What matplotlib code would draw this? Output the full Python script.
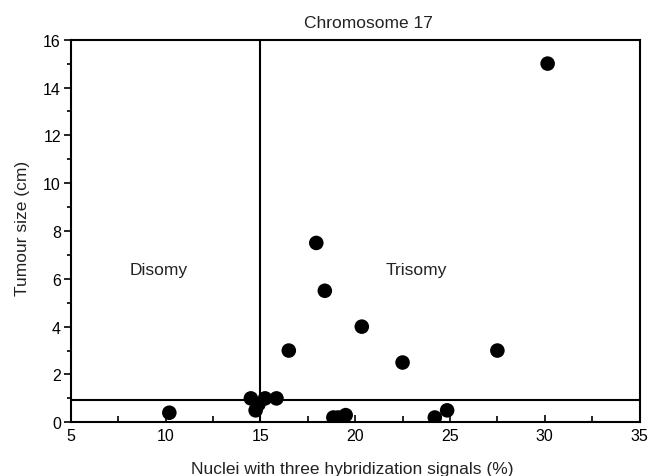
import matplotlib
matplotlib.use("Agg")
import matplotlib.pyplot as plt
from matplotlib.ticker import MultipleLocator

plt.rcParams['font.family'] = ['Liberation Sans', 'DejaVu Sans']

x_vals = [10.2, 14.5, 14.75, 14.9, 15.25, 15.85, 16.5, 17.95, 18.4, 18.85, 19.1, 19.5, 20.35, 22.5, 24.2, 24.85, 27.5, 30.15]
y_vals = [0.4, 1.0, 0.5, 0.75, 1.0, 1.0, 3.0, 7.5, 5.5, 0.2, 0.2, 0.3, 4.0, 2.5, 0.2, 0.5, 3.0, 15.0]
cutoff_x = 15.0
cutoff_y = 0.95
region_labels = ["Disomy", "Trisomy"]
region_pos_x = [9.65, 23.2]
region_pos_y = [6.2, 6.2]

fig = plt.figure(figsize=(6.5, 4.77), dpi=100)
ax = fig.add_axes([0.1088, 0.1126, 0.984 - 0.1088, 0.9147 - 0.1126])

ax.scatter(x_vals, y_vals, s=110, color='black', zorder=3, edgecolors='none')
ax.axvline(cutoff_x, color='black', lw=1.5)
ax.axhline(cutoff_y, color='black', lw=1.5)

for lbl, px, py in zip(region_labels, region_pos_x, region_pos_y):
    ax.text(px, py, lbl, ha='center', va='baseline', fontsize=12.5, color='#222222')

ax.set_xlim(5, 35)
ax.set_ylim(0, 16)
ax.xaxis.set_major_locator(MultipleLocator(5))
ax.xaxis.set_minor_locator(MultipleLocator(2.5))
ax.yaxis.set_major_locator(MultipleLocator(2))
ax.yaxis.set_minor_locator(MultipleLocator(1))
ax.tick_params(axis='x', which='both', direction='in', labelsize=11.5, pad=4)
ax.tick_params(axis='x', which='major', length=5, width=1.2)
ax.tick_params(axis='x', which='minor', length=4, width=1.2)
ax.tick_params(axis='y', which='both', direction='out', labelsize=11.5, pad=2)
ax.tick_params(axis='y', which='major', length=5, width=1.2)
ax.tick_params(axis='y', which='minor', length=3, width=1.2)
for sp in ax.spines.values():
    sp.set_linewidth(1.5)

fig.text(368 / 650, 1 - 28 / 477, "Chromosome 17", ha='center', va='baseline', fontsize=12.5, color='#222222')
fig.text(352.5 / 650, 1 - 474 / 477, "Nuclei with three hybridization signals (%)", ha='center', va='baseline',
         fontsize=12.5, color='#222222')
fig.text(15 / 650, 1 - 228.5 / 477, "Tumour size (cm)", ha='left', va='center', rotation=90,
         fontsize=12.5, color='#222222')

fig.savefig("out.png", dpi=100)
